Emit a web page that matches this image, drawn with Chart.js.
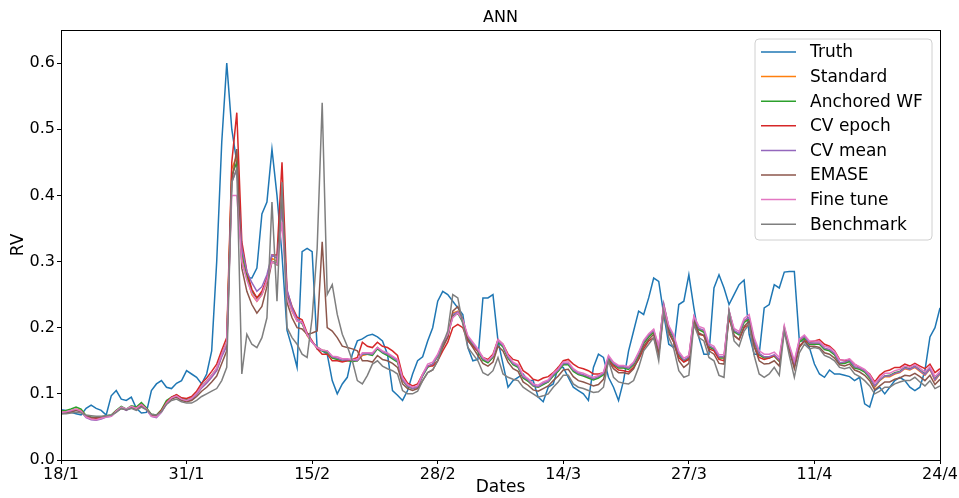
<!DOCTYPE html>
<html><head><meta charset="utf-8">
<script src="https://cdn.jsdelivr.net/npm/chart.js@4.4.1/dist/chart.umd.min.js"></script>
<style>html,body{margin:0;padding:0;background:#fff;}canvas{display:block;}</style>
</head><body>
<canvas id="c" width="959" height="498"></canvas>
<script>
const tickLabels = ['18/1','31/1','15/2','28/2','14/3','27/3','11/4','24/4'];
const seriesNames = ['Truth','Standard','Anchored WF','CV epoch','CV mean','EMASE','Fine tune','Benchmark'];
const seriesColors = ['#1f77b4','#ff7f0e','#2ca02c','#d62728','#9467bd','#8c564b','#e377c2','#7f7f7f'];

const truth = [0.076,0.075,0.072,0.070,0.068,0.078,0.083,0.078,0.075,0.068,
0.097,0.105,0.092,0.090,0.095,0.078,0.071,0.072,0.105,0.115,
0.120,0.110,0.108,0.116,0.120,0.135,0.130,0.125,0.115,0.130,
0.165,0.300,0.480,0.600,0.500,0.450,0.300,0.275,0.275,0.290,
0.372,0.390,0.470,0.400,0.310,0.196,0.170,0.140,0.315,0.320,
0.315,0.168,0.165,0.160,0.120,0.100,0.115,0.125,0.160,0.180,
0.183,0.188,0.190,0.186,0.180,0.160,0.105,0.098,0.090,0.105,
0.130,0.150,0.156,0.180,0.200,0.240,0.255,0.250,0.240,0.230,
0.220,0.170,0.150,0.152,0.245,0.245,0.250,0.180,0.145,0.110,
0.120,0.125,0.130,0.120,0.120,0.095,0.088,0.110,0.115,0.140,
0.140,0.125,0.110,0.105,0.100,0.090,0.140,0.160,0.155,0.125,
0.110,0.090,0.120,0.165,0.195,0.225,0.220,0.245,0.275,0.270,
0.220,0.175,0.170,0.235,0.240,0.280,0.230,0.185,0.160,0.160,
0.260,0.280,0.260,0.235,0.250,0.265,0.272,0.190,0.160,0.160,
0.230,0.235,0.265,0.260,0.284,0.285,0.285,0.180,0.180,0.170,
0.145,0.130,0.125,0.136,0.130,0.130,0.128,0.126,0.120,0.125,
0.085,0.080,0.105,0.110,0.100,0.110,0.120,0.125,0.120,0.110,
0.105,0.110,0.135,0.186,0.200,0.230];

const standard = [0.072,0.073,0.074,0.077,0.075,0.066,0.064,0.063,0.064,0.066,
0.067,0.074,0.080,0.076,0.080,0.078,0.085,0.078,0.068,0.067,
0.075,0.087,0.094,0.097,0.092,0.090,0.092,0.100,0.110,0.117,
0.126,0.136,0.158,0.175,0.440,0.460,0.310,0.277,0.250,0.240,
0.250,0.270,0.305,0.300,0.400,0.247,0.225,0.210,0.208,0.188,
0.178,0.170,0.166,0.165,0.155,0.153,0.150,0.151,0.150,0.150,
0.158,0.160,0.160,0.170,0.163,0.160,0.155,0.150,0.120,0.112,
0.108,0.110,0.128,0.142,0.145,0.158,0.176,0.188,0.222,0.225,
0.210,0.185,0.175,0.165,0.152,0.148,0.156,0.180,0.172,0.155,
0.145,0.142,0.125,0.120,0.112,0.110,0.115,0.118,0.128,0.135,
0.145,0.145,0.135,0.130,0.128,0.125,0.122,0.125,0.130,0.155,
0.145,0.140,0.140,0.138,0.145,0.160,0.178,0.188,0.195,0.168,
0.235,0.200,0.185,0.160,0.150,0.155,0.215,0.198,0.195,0.172,
0.168,0.155,0.155,0.225,0.195,0.190,0.210,0.215,0.180,0.160,
0.155,0.155,0.158,0.150,0.200,0.170,0.145,0.180,0.186,0.176,
0.176,0.176,0.168,0.166,0.160,0.146,0.147,0.150,0.140,0.138,
0.134,0.125,0.110,0.120,0.126,0.126,0.130,0.132,0.138,0.136,
0.140,0.134,0.128,0.137,0.120,0.130];

const anchoredWF = [0.074,0.075,0.077,0.080,0.077,0.067,0.065,0.064,0.065,0.067,
0.068,0.075,0.081,0.077,0.082,0.080,0.087,0.079,0.069,0.068,
0.076,0.090,0.095,0.098,0.093,0.091,0.093,0.101,0.111,0.119,
0.128,0.138,0.160,0.178,0.430,0.450,0.315,0.280,0.255,0.245,
0.252,0.272,0.300,0.298,0.390,0.250,0.228,0.212,0.206,0.190,
0.178,0.171,0.165,0.163,0.154,0.152,0.150,0.150,0.149,0.150,
0.160,0.160,0.158,0.168,0.162,0.158,0.153,0.148,0.121,0.111,
0.108,0.111,0.127,0.140,0.144,0.157,0.174,0.186,0.218,0.222,
0.208,0.184,0.174,0.164,0.151,0.147,0.155,0.178,0.171,0.154,
0.144,0.140,0.124,0.119,0.112,0.110,0.114,0.118,0.127,0.134,
0.144,0.144,0.134,0.129,0.127,0.124,0.121,0.124,0.129,0.153,
0.144,0.139,0.139,0.137,0.144,0.158,0.176,0.186,0.193,0.167,
0.232,0.198,0.184,0.159,0.149,0.154,0.212,0.197,0.193,0.171,
0.167,0.154,0.154,0.222,0.194,0.189,0.208,0.213,0.179,0.159,
0.154,0.154,0.157,0.149,0.198,0.169,0.145,0.178,0.184,0.175,
0.175,0.175,0.167,0.165,0.159,0.146,0.146,0.149,0.139,0.137,
0.133,0.124,0.112,0.121,0.127,0.128,0.132,0.134,0.140,0.138,
0.142,0.136,0.130,0.139,0.123,0.131];

const cvEpoch = [0.071,0.072,0.073,0.076,0.074,0.066,0.064,0.063,0.064,0.066,
0.067,0.074,0.079,0.076,0.080,0.078,0.084,0.077,0.068,0.067,
0.075,0.087,0.095,0.099,0.094,0.093,0.096,0.104,0.116,0.124,
0.134,0.145,0.166,0.185,0.450,0.525,0.330,0.285,0.258,0.245,
0.255,0.275,0.310,0.310,0.450,0.255,0.232,0.216,0.212,0.192,
0.180,0.168,0.160,0.160,0.150,0.150,0.148,0.150,0.152,0.155,
0.178,0.172,0.170,0.178,0.172,0.170,0.165,0.158,0.128,0.116,
0.112,0.115,0.130,0.142,0.142,0.150,0.165,0.178,0.200,0.205,
0.200,0.180,0.172,0.165,0.155,0.152,0.160,0.182,0.175,0.160,
0.152,0.150,0.135,0.130,0.122,0.120,0.124,0.126,0.132,0.140,
0.150,0.152,0.145,0.140,0.138,0.135,0.130,0.130,0.132,0.150,
0.142,0.136,0.135,0.133,0.140,0.152,0.168,0.180,0.185,0.160,
0.225,0.192,0.178,0.155,0.148,0.152,0.205,0.190,0.188,0.168,
0.165,0.152,0.150,0.215,0.188,0.182,0.200,0.205,0.172,0.155,
0.152,0.154,0.158,0.150,0.195,0.168,0.142,0.172,0.180,0.178,
0.180,0.182,0.175,0.172,0.165,0.152,0.150,0.152,0.145,0.140,
0.136,0.130,0.118,0.128,0.134,0.136,0.140,0.140,0.145,0.142,
0.146,0.142,0.138,0.145,0.132,0.138];

const cvMean = [0.071,0.072,0.073,0.075,0.073,0.064,0.061,0.060,0.062,0.065,
0.066,0.073,0.079,0.075,0.079,0.077,0.083,0.076,0.066,0.064,
0.072,0.085,0.093,0.096,0.091,0.089,0.091,0.099,0.109,0.116,
0.125,0.135,0.156,0.172,0.420,0.440,0.320,0.285,0.268,0.255,
0.262,0.280,0.310,0.305,0.380,0.258,0.230,0.212,0.208,0.190,
0.178,0.170,0.166,0.165,0.156,0.154,0.151,0.152,0.151,0.150,
0.160,0.161,0.160,0.170,0.163,0.160,0.155,0.150,0.121,0.112,
0.108,0.110,0.128,0.142,0.145,0.158,0.176,0.188,0.220,0.224,
0.210,0.186,0.176,0.166,0.153,0.149,0.157,0.180,0.173,0.156,
0.146,0.142,0.126,0.121,0.113,0.111,0.116,0.119,0.129,0.136,
0.146,0.146,0.136,0.131,0.129,0.126,0.123,0.126,0.131,0.156,
0.146,0.141,0.141,0.139,0.146,0.161,0.179,0.189,0.196,0.169,
0.236,0.201,0.186,0.161,0.151,0.156,0.216,0.199,0.196,0.173,
0.169,0.156,0.156,0.226,0.196,0.191,0.211,0.216,0.181,0.161,
0.156,0.156,0.159,0.151,0.201,0.171,0.146,0.181,0.187,0.177,
0.177,0.177,0.169,0.167,0.161,0.147,0.148,0.151,0.141,0.139,
0.135,0.126,0.112,0.121,0.127,0.127,0.131,0.133,0.139,0.137,
0.141,0.135,0.129,0.138,0.121,0.131];

const emase = [0.070,0.071,0.072,0.075,0.073,0.066,0.064,0.064,0.065,0.066,
0.067,0.073,0.078,0.076,0.079,0.077,0.082,0.077,0.068,0.067,
0.074,0.085,0.092,0.095,0.090,0.088,0.090,0.096,0.104,0.110,
0.118,0.127,0.146,0.165,0.420,0.470,0.290,0.255,0.235,0.222,
0.232,0.262,0.300,0.295,0.410,0.238,0.215,0.200,0.198,0.190,
0.192,0.195,0.330,0.200,0.195,0.185,0.172,0.170,0.168,0.165,
0.150,0.150,0.148,0.158,0.152,0.150,0.146,0.140,0.115,0.108,
0.105,0.108,0.120,0.132,0.136,0.150,0.170,0.185,0.225,0.232,
0.212,0.182,0.170,0.158,0.146,0.142,0.148,0.172,0.165,0.148,
0.138,0.134,0.118,0.113,0.106,0.104,0.108,0.112,0.120,0.127,
0.136,0.137,0.126,0.120,0.118,0.115,0.112,0.114,0.122,0.150,
0.138,0.132,0.132,0.130,0.138,0.154,0.172,0.182,0.190,0.160,
0.230,0.195,0.178,0.150,0.140,0.146,0.210,0.192,0.188,0.165,
0.160,0.146,0.145,0.222,0.188,0.182,0.202,0.210,0.172,0.150,
0.145,0.146,0.150,0.142,0.198,0.165,0.138,0.170,0.180,0.172,
0.172,0.170,0.162,0.160,0.154,0.144,0.142,0.145,0.136,0.133,
0.128,0.120,0.106,0.112,0.118,0.118,0.122,0.124,0.128,0.127,
0.131,0.126,0.120,0.128,0.114,0.122];

const fineTune = [0.072,0.073,0.075,0.077,0.074,0.065,0.062,0.061,0.063,0.065,
0.066,0.074,0.080,0.077,0.081,0.078,0.084,0.077,0.066,0.065,
0.073,0.086,0.094,0.097,0.092,0.090,0.093,0.101,0.111,0.119,
0.128,0.139,0.160,0.178,0.400,0.400,0.300,0.272,0.252,0.240,
0.250,0.272,0.300,0.296,0.360,0.245,0.225,0.210,0.208,0.190,
0.178,0.170,0.166,0.165,0.157,0.156,0.153,0.153,0.152,0.152,
0.162,0.162,0.162,0.170,0.165,0.162,0.157,0.152,0.124,0.114,
0.110,0.112,0.130,0.145,0.148,0.160,0.178,0.190,0.215,0.222,
0.212,0.188,0.178,0.168,0.155,0.150,0.158,0.182,0.175,0.158,
0.148,0.144,0.128,0.123,0.115,0.113,0.118,0.121,0.131,0.138,
0.148,0.148,0.138,0.133,0.131,0.128,0.125,0.128,0.133,0.158,
0.148,0.143,0.143,0.141,0.148,0.163,0.181,0.191,0.198,0.172,
0.232,0.203,0.189,0.164,0.154,0.158,0.218,0.202,0.199,0.176,
0.172,0.159,0.159,0.225,0.199,0.194,0.214,0.220,0.185,0.165,
0.160,0.160,0.163,0.155,0.203,0.174,0.150,0.183,0.189,0.180,
0.180,0.179,0.172,0.170,0.164,0.151,0.151,0.153,0.145,0.141,
0.137,0.129,0.116,0.124,0.131,0.131,0.135,0.137,0.142,0.140,
0.144,0.139,0.133,0.141,0.126,0.134];

const benchmark = [0.070,0.070,0.071,0.072,0.071,0.068,0.067,0.066,0.066,0.067,
0.068,0.072,0.078,0.076,0.078,0.075,0.080,0.076,0.069,0.068,
0.073,0.084,0.090,0.092,0.088,0.086,0.086,0.090,0.096,0.100,
0.104,0.108,0.120,0.140,0.420,0.440,0.130,0.190,0.175,0.170,
0.185,0.215,0.390,0.240,0.420,0.200,0.185,0.175,0.160,0.155,
0.215,0.320,0.540,0.250,0.265,0.220,0.190,0.172,0.150,0.120,
0.115,0.128,0.145,0.150,0.142,0.138,0.135,0.130,0.105,0.100,
0.100,0.104,0.120,0.132,0.136,0.150,0.175,0.195,0.250,0.245,
0.205,0.170,0.160,0.150,0.132,0.128,0.135,0.155,0.130,0.125,
0.122,0.120,0.110,0.105,0.100,0.095,0.097,0.100,0.110,0.118,
0.128,0.128,0.115,0.110,0.108,0.105,0.102,0.103,0.110,0.150,
0.125,0.118,0.116,0.115,0.120,0.140,0.165,0.175,0.185,0.150,
0.225,0.185,0.168,0.135,0.125,0.128,0.205,0.185,0.180,0.155,
0.150,0.128,0.125,0.225,0.180,0.172,0.195,0.205,0.158,0.130,
0.125,0.130,0.140,0.128,0.195,0.158,0.125,0.162,0.175,0.168,
0.170,0.168,0.158,0.155,0.150,0.140,0.138,0.140,0.130,0.126,
0.120,0.112,0.100,0.104,0.110,0.110,0.115,0.118,0.120,0.120,
0.125,0.118,0.112,0.120,0.108,0.112];

const yTicks = [0.0,0.1,0.2,0.3,0.4,0.5,0.6];

const allSeries = [truth, standard, anchoredWF, cvEpoch, cvMean, emase, fineTune, benchmark];
const lastIndex = truth.length - 1;
const tickStep = lastIndex / (tickLabels.length - 1);
const FONT = 'DejaVu Sans';

const datasets = allSeries.map((arr, k) => ({
  label: seriesNames[k],
  data: arr.map((v, i) => ({x: i, y: v})),
  borderColor: seriesColors[k],
  backgroundColor: seriesColors[k],
  borderWidth: 1.5,
  pointRadius: 0,
  tension: 0,
  fill: false,
  order: allSeries.length - k
}));

const framePlugin = {
  id: 'frame',
  afterDatasetsDraw(chart) {
    const a = chart.chartArea, c = chart.ctx;
    c.save();
    c.strokeStyle = '#000';
    c.lineWidth = 1;
    c.strokeRect(Math.round(a.left) + 0.5, Math.round(a.top) + 0.5, Math.round(a.right - a.left), Math.round(a.bottom - a.top));
    c.restore();
  }
};

const titlePlugin = {
  id: 'ttl',
  afterDraw(chart) {
    const a = chart.chartArea, c = chart.ctx;
    c.save();
    c.fillStyle = '#000';
    c.font = '16px "' + FONT + '"';
    c.textAlign = 'center';
    c.textBaseline = 'middle';
    c.fillText('ANN', (a.left + a.right) / 2, 18);
    c.restore();
  }
};

const legendPlugin = {
  id: 'lgd',
  afterDraw(chart) {
    const c = chart.ctx;
    const x0 = 755, y0 = 39, w = 177, h = 201, r = 4;
    c.save();
    c.beginPath();
    c.moveTo(x0 + r, y0);
    c.arcTo(x0 + w, y0, x0 + w, y0 + h, r);
    c.arcTo(x0 + w, y0 + h, x0, y0 + h, r);
    c.arcTo(x0, y0 + h, x0, y0, r);
    c.arcTo(x0, y0, x0 + w, y0, r);
    c.closePath();
    c.fillStyle = 'rgba(255,255,255,0.8)';
    c.fill();
    c.strokeStyle = '#d0d0d0';
    c.lineWidth = 1;
    c.stroke();
    c.font = '17px "' + FONT + '"';
    c.textBaseline = 'middle';
    c.textAlign = 'left';
    chart.data.datasets.forEach((ds, k) => {
      const yy = 52 + k * 24.6;
      c.strokeStyle = ds.borderColor;
      c.lineWidth = 1.5;
      c.beginPath();
      c.moveTo(761, yy);
      c.lineTo(796, yy);
      c.stroke();
      c.fillStyle = '#000';
      c.fillText(ds.label, 810, yy + 1);
    });
    c.restore();
  }
};

new Chart(document.getElementById('c'), {
  type: 'line',
  data: {datasets},
  options: {
    responsive: false,
    animation: false,
    devicePixelRatio: 1,
    layout: {padding: {top: 30, right: 19, left: 0, bottom: 0}},
    plugins: {legend: {display: false}, title: {display: false}, tooltip: {enabled: false}},
    scales: {
      x: {
        type: 'linear', min: 0, max: lastIndex,
        afterFit(s) { s.height = 38; },
        afterBuildTicks(s) { s.ticks = tickLabels.map((l, k) => ({value: k * tickStep})); },
        ticks: {
          autoSkip: false, maxRotation: 0, padding: 1, color: '#000',
          font: {family: FONT, size: 16},
          callback: (v) => tickLabels[Math.round(v / tickStep)]
        },
        grid: {display: true, drawOnChartArea: false, drawTicks: true, tickLength: 4, color: '#000'},
        border: {display: true, color: '#000'},
        title: {display: true, text: 'Dates', color: '#000', font: {family: FONT, size: 17}, padding: {top: 0, bottom: 0}}
      },
      y: {
        min: 0, max: 0.65,
        afterFit(s) { s.width = 61; },
        afterBuildTicks(s) { s.ticks = yTicks.map(v => ({value: v})); },
        ticks: {
          padding: 2, color: '#000',
          font: {family: FONT, size: 16},
          callback: (v) => Number(v).toFixed(1)
        },
        grid: {display: true, drawOnChartArea: false, drawTicks: true, tickLength: 4, color: '#000'},
        border: {display: true, color: '#000'},
        title: {display: true, text: 'RV', color: '#000', font: {family: FONT, size: 17}, padding: {top: 8, bottom: 0}}
      }
    }
  },
  plugins: [framePlugin, titlePlugin, legendPlugin]
});
</script>
</body></html>
